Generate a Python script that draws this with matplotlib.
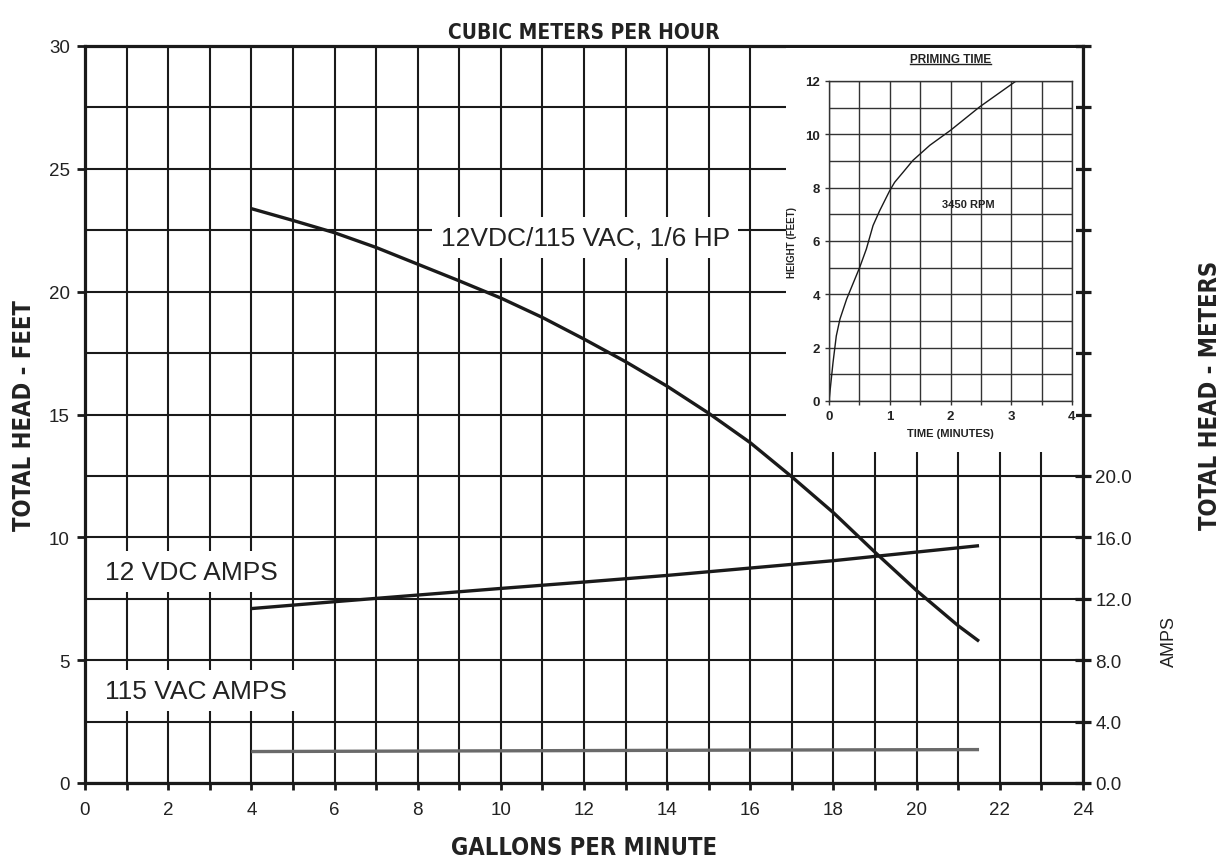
import numpy as np
import matplotlib
matplotlib.use("Agg")
import matplotlib.pyplot as plt
from matplotlib import font_manager
from matplotlib.patches import Rectangle
from matplotlib.lines import Line2D

# ---- data ----
gpm_head = [4, 5, 6, 7, 8, 9, 10, 11, 12, 13, 14, 15, 16, 17, 18, 19, 20, 21, 21.5]
head_ft = [23.38, 22.9, 22.4, 21.8, 21.12, 20.44, 19.74, 18.95, 18.07, 17.15, 16.15,
           15.05, 13.85, 12.46, 11.0, 9.39, 7.83, 6.4, 5.77]

gpm_amps = [4, 6, 8, 10, 12, 14, 16, 18, 20, 21.5]
amps_12vdc_ft = [7.10, 7.38, 7.65, 7.92, 8.18, 8.45, 8.75, 9.05, 9.40, 9.66]

gpm_ac = [4, 10, 16, 21.5]
amps_115vac_ft = [1.28, 1.31, 1.34, 1.36]

prime_min = [0.0, 0.066, 0.12, 0.18, 0.29, 0.505, 0.615, 0.725, 0.835, 1.0, 1.08,
             1.22, 1.38, 1.66, 2.0, 2.48, 3.08]
prime_ft = [0.0, 1.44, 2.44, 3.07, 3.82, 5.01, 5.70, 6.58, 7.14, 7.89, 8.2,
            8.58, 9.02, 9.59, 10.15, 11.03, 12.0]

amp_labels = ['0.0', '4.0', '8.0', '12.0', '16.0', '20.0']

# ---- fonts ----
plt.rcParams['font.family'] = ['Liberation Sans', 'DejaVu Sans']


def find_condensed_bold():
    best = None
    for f in font_manager.fontManager.ttflist:
        st = str(f.stretch).lower()
        nm = f.name.lower()
        cond = ('condensed' in st or 'narrow' in nm or 'condensed' in nm
                or 'condensed' in f.fname.lower() or 'narrow' in f.fname.lower())
        if not cond:
            continue
        try:
            w = int(f.weight)
        except (TypeError, ValueError):
            w = 700 if 'bold' in str(f.weight).lower() else 400
        if 'italic' in str(f.style).lower() or 'oblique' in str(f.style).lower():
            continue
        score = abs(w - 700)
        if best is None or score < best[0]:
            best = (score, f.fname)
    return best[1] if best else None


cond_path = find_condensed_bold()


def cond_font(size):
    if cond_path:
        return font_manager.FontProperties(fname=cond_path, size=size)
    return font_manager.FontProperties(family='DejaVu Sans', weight='bold',
                                       size=size * 0.8)


ink = '#1a1a1a'
txt = '#222222'

fig = plt.figure(figsize=(12.29, 8.62), dpi=100)
ax = fig.add_axes([85/1229, 1-784/862, 998/1229, 737/862])

ax.set_xlim(0, 24)
ax.set_ylim(0, 30)
ax.set_xticks(range(0, 25, 2))
ax.set_xticks(range(1, 24, 2), minor=True)
ax.set_yticks(range(0, 31, 5))
ax.set_yticks(np.arange(2.5, 30, 5), minor=True)
ax.grid(True, which='both', color=ink, lw=1.5)
ax.tick_params(axis='x', which='both', direction='out', length=5, width=2, colors=ink,
               labelsize=13.5, pad=8, labelcolor=txt)
ax.tick_params(axis='y', which='major', direction='out', length=6, width=2, colors=ink,
               labelsize=13.5, pad=5, labelcolor=txt)
ax.tick_params(axis='y', which='minor', length=0)
for s in ax.spines.values():
    s.set_linewidth(2.3)
    s.set_color(ink)

ax.plot(gpm_head, head_ft, color=ink, lw=2.4, zorder=4, solid_capstyle='butt')
ax.plot(gpm_amps, amps_12vdc_ft, color=ink, lw=2.4, zorder=4, solid_capstyle='butt')
ax.plot(gpm_ac, amps_115vac_ft, color='#6a6a6a', lw=2.4, zorder=4, solid_capstyle='butt')

box = dict(facecolor='white', edgecolor='none', pad=6)
ax.text(8.55, 22.2, '12VDC/115 VAC, 1/6 HP', fontsize=19, color=txt,
        va='center', ha='left', bbox=box, zorder=3)
ax.text(0.48, 8.6, '12 VDC AMPS', fontsize=19, color=txt,
        va='center', ha='left', bbox=box, zorder=3)
ax.text(0.48, 3.75, '115 VAC AMPS', fontsize=19, color=txt,
        va='center', ha='left', bbox=box, zorder=3)

ax.set_xlabel('GALLONS PER MINUTE', fontproperties=cond_font(17), color=txt, labelpad=12)
ax.set_ylabel('TOTAL HEAD - FEET', fontproperties=cond_font(17), color=txt, labelpad=9)
ax.set_title('CUBIC METERS PER HOUR', fontproperties=cond_font(15), color=txt, pad=6)

# right axis: amps
ax2 = ax.twinx()
ax2.set_ylim(0, 48)
ax2.set_yticks(np.arange(0, 49, 4))
ax2.set_yticklabels(amp_labels + [''] * (13 - len(amp_labels)))
ax2.tick_params(axis='y', direction='inout', length=12, width=2.3, colors=ink,
                labelsize=13.5, pad=3, labelcolor=txt)
for s in ax2.spines.values():
    s.set_visible(False)
ax2.set_ylabel('AMPS', fontsize=13, color=txt)
ax2.yaxis.set_label_coords(1.078, 0.193)
fig.text(1210/1229, 1-395/862, 'TOTAL HEAD - METERS', rotation=90,
         fontproperties=cond_font(17), color=txt, ha='center', va='center')

# white panel behind inset
fig.add_artist(Rectangle((786/1229, 1-453/862), 290/1229, 404/862,
                         transform=fig.transFigure, facecolor='white',
                         edgecolor='none', zorder=1))

# inset: priming time
ins = fig.add_axes([829/1229, 1-402/862, 243/1229, 320/862], zorder=2)
ins.set_xlim(0, 4)
ins.set_ylim(0, 12)
ins.set_xticks(range(0, 5))
ins.set_xticks(np.arange(0.5, 4, 1), minor=True)
ins.set_yticks(range(0, 13, 2))
ins.set_yticks(range(1, 12, 2), minor=True)
ins.grid(True, which='both', color='#333333', lw=1.0)
ins.tick_params(which='both', length=3, width=1, colors='#333333', labelsize=9.5,
                labelcolor=txt)
ins.tick_params(axis='y', which='minor', length=0)
for lbl in ins.get_xticklabels() + ins.get_yticklabels():
    lbl.set_fontweight('bold')
for s in ins.spines.values():
    s.set_linewidth(1.0)
    s.set_color('#333333')
ins.plot(prime_min, prime_ft, color=ink, lw=1.0)
ins.text(2.3, 7.4, '3450 RPM', fontsize=8, fontweight='bold', ha='center',
         va='center', color=txt)
ins.set_xlabel('TIME (MINUTES)', fontsize=8, fontweight='bold', color=txt, labelpad=4)
ins.set_ylabel('HEIGHT (FEET)', fontsize=7, fontweight='bold', color=txt, labelpad=6)
ttl = ins.set_title('PRIMING TIME', fontsize=8.5, fontweight='bold', color=txt, pad=14)

# underline the inset title
fig.canvas.draw()
bb = ttl.get_window_extent().transformed(fig.transFigure.inverted())
fig.add_artist(Line2D([bb.x0, bb.x1], [bb.y0 + 0.001, bb.y0 + 0.001],
                      transform=fig.transFigure, color=txt, lw=1.0, zorder=3))

fig.savefig('out.png', dpi=100)
